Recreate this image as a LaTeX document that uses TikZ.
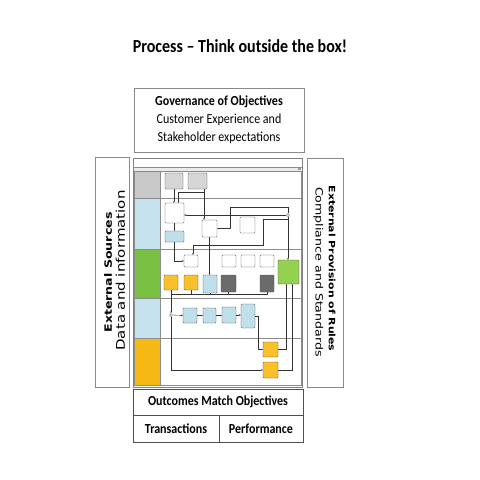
\documentclass[tikz,border=0pt]{standalone}
\usepackage{fontspec}
\usepackage{graphicx}
\setmainfont{Carlito}
\newfontfamily\djv{DejaVu Sans}
\usetikzlibrary{arrows.meta}
\newcommand{\hsq}[1]{\scalebox{0.87}[1]{#1}}
\newcommand{\vsq}[1]{\scalebox{1}[0.8]{#1}}
\definecolor{lanegray}{HTML}{C9C9C9}
\definecolor{laneblue}{HTML}{C6E2EC}
\definecolor{lanegreen}{HTML}{7AC143}
\definecolor{laneyellow}{HTML}{F6B913}
\definecolor{boxgray}{HTML}{D6D6D6}
\definecolor{boxblue}{HTML}{BFE0EB}
\definecolor{boxyellow}{HTML}{F8C02A}
\definecolor{boxdark}{HTML}{6B6B6B}
\definecolor{boxgreen}{HTML}{94D051}
\definecolor{outline}{HTML}{8A8A8A}
\definecolor{darkline}{HTML}{505050}
\begin{document}
\begin{tikzpicture}[x=1pt,y=-1pt,
  bigbox/.style={draw=outline,line width=0.9pt,inner sep=0pt,outer sep=0pt},
  botbox/.style={draw=darkline,line width=0.8pt,inner sep=0pt,outer sep=0pt},
  lbl/.style={inner sep=0pt,font=\fontsize{13.8}{16}\selectfont},
  sidel/.style={inner sep=0pt},
  fl/.style={draw=black!70,line width=0.35pt,rounded corners=0.8pt,inner sep=0pt,outer sep=0pt,anchor=north west},
  wb/.style={fl,fill=white},
  gb/.style={fl,fill=boxgray},
  bb/.style={fl,fill=boxblue},
  yb/.style={fl,fill=boxyellow},
  db/.style={fl,fill=boxdark},
  grb/.style={fl,fill=boxgreen},
  junc/.style={circle,draw=black!70,fill=white,line width=0.35pt,minimum size=3pt,inner sep=0pt},
  cn/.style={draw=black!80,line width=0.35pt},
  arr/.style={cn,-{Latex[length=1.8pt,width=1.6pt]}},
  lane/.style={draw=black!45,line width=0.35pt}
]
\useasboundingbox (0,0) rectangle (480,480);
\fill[white] (0,0) rectangle (480,480);

% title
\node[inner sep=0pt,font=\fontsize{18.4}{21}\selectfont\bfseries] (title) at (240,46) {\hsq{Process – Think outside the box!}};

% governance box
\node[bigbox,anchor=north west,minimum width=170pt,minimum height=64pt] (gov) at (134,88) {};
\node[lbl,font=\fontsize{13.8}{16}\selectfont\bfseries] (gov1) at (219,102) {\hsq{Governance of Objectives}};
\node[lbl] (gov2) at (219,120) {\hsq{Customer Experience and}};
\node[lbl] (gov3) at (219,138) {\hsq{Stakeholder expectations}};

% left box
\node[bigbox,anchor=north west,minimum width=34pt,minimum height=230pt] (ext) at (95,157) {};
\node[sidel,rotate=90,font=\djv\fontsize{12.6}{14}\selectfont\bfseries] (ext1) at (108,272.5) {\vsq{External Sources}};
\node[sidel,rotate=90,font=\djv\fontsize{15}{17}\selectfont] (ext2) at (120.5,270.5) {\vsq{Data and information}};

% right box
\node[bigbox,anchor=north west,minimum width=36pt,minimum height=229pt] (rules) at (307,158) {};
\node[sidel,rotate=-90,font=\djv\fontsize{10.9}{13}\selectfont\bfseries] (rules1) at (332,268.5) {\vsq{External Provision of Rules}};
\node[sidel,rotate=-90,font=\djv\fontsize{12.6}{14}\selectfont] (rules2) at (318.5,272) {\vsq{Compliance and Standards}};

% bottom boxes
\node[botbox,anchor=north west,minimum width=170pt,minimum height=26pt] (out) at (133,389) {};
\node[botbox,anchor=north west,minimum width=86pt,minimum height=27pt] (trans) at (133,415) {};
\node[botbox,anchor=north west,minimum width=84pt,minimum height=27pt] (perf) at (219,415) {};
\node[lbl,font=\fontsize{13.8}{16}\selectfont\bfseries] at (out.center) {\hsq{Outcomes Match Objectives}};
\node[lbl,font=\fontsize{13.8}{16}\selectfont\bfseries] at (trans.center) {\hsq{Transactions}};
\node[lbl,font=\fontsize{13.8}{16}\selectfont\bfseries] at (perf.center) {\hsq{Performance}};

% ---------------- inner process model ----------------
\draw[draw=black!50,line width=0.5pt,fill=white] (133,158) rectangle (302,387);
\draw[lane] (133,167) -- (302,167);
\fill[black!8] (134,168) rectangle (301,170.5);
\fill[black!40] (298,168.3) rectangle (300.5,170.2);
% lane label columns
\fill[lanegray]  (134,171) rectangle (160,198);
\fill[laneblue]  (134,198) rectangle (160,249);
\fill[lanegreen] (134,249) rectangle (160,298);
\fill[laneblue]  (134,298) rectangle (160,338);
\fill[laneyellow](134,338) rectangle (160,385);
\draw[lane] (134,171) rectangle (301,385);
\foreach \yy in {198,249,298,338} \draw[lane] (134,\yy) -- (301,\yy);
\draw[lane] (160,171) -- (160,385);

% boxes
\node[gb,minimum width=18pt,minimum height=16pt] (g1) at (165,173) {};
\node[gb,minimum width=19pt,minimum height=16pt] (g2) at (188,173) {};
\node[wb,minimum width=19pt,minimum height=20pt] (A) at (165,203) {};
\node[bb,minimum width=19pt,minimum height=11pt] (Ab) at (165,231) {};
\node[wb,minimum width=15pt,minimum height=17pt] (B) at (202,220) {};
\node[wb,minimum width=15pt,minimum height=16pt] (Q) at (240,217) {};
\node[wb,minimum width=14pt,minimum height=12pt] (C) at (184,255) {};
\node[wb,minimum width=14pt,minimum height=12pt] (w1) at (222,255) {};
\node[wb,minimum width=14pt,minimum height=12pt] (w2) at (241,255) {};
\node[wb,minimum width=14pt,minimum height=12pt] (w3) at (260,255) {};
\node[yb,minimum width=14pt,minimum height=15pt] (y1) at (164,275) {};
\node[yb,minimum width=14pt,minimum height=15pt] (y2) at (184,275) {};
\node[bb,minimum width=14pt,minimum height=18pt] (bl) at (203,275) {};
\node[db,minimum width=15pt,minimum height=17pt] (d1) at (221,275) {};
\node[db,minimum width=14pt,minimum height=17pt] (d2) at (260,275) {};
\node[grb,minimum width=21pt,minimum height=24pt] (G) at (278,260) {};
\node[bb,minimum width=14pt,minimum height=15pt] (b1) at (183,308) {};
\node[bb,minimum width=13pt,minimum height=15pt] (b2) at (203,308) {};
\node[bb,minimum width=14pt,minimum height=16pt] (b3) at (222,307) {};
\node[bb,minimum width=14pt,minimum height=24pt] (b4) at (241,304) {};
\node[yb,minimum width=15pt,minimum height=15pt] (o1) at (263,342) {};
\node[yb,minimum width=15pt,minimum height=16pt] (o2) at (263,362) {};
\node[junc] (c1) at (288,215) {};
\node[junc] (c2) at (171,315) {};

\coordinate (t1) at (230,207);
\coordinate (t2) at (263,219);
\coordinate (t3) at (263,245);
\coordinate (hL) at (171,294);

% connectors
\draw[arr] (g1.south) -- (g1.south |- A.north);
\draw[arr] ([xshift=-3pt]g2.south east) -- ([xshift=-3pt]g2.south east |- B.north);
\draw[arr] ([xshift=-3pt,yshift=-3pt]g2.south east) -| ([xshift=4pt]A.north);
\draw[arr] (A.south) -- (A.south |- Ab.north);
\draw[arr] (Ab.south) |- (C.west);
\draw[arr] (B.south) -- (B.south |- bl.north);
\draw[arr] (c1.west) -- (c1.west -| A.east);
\draw[arr] (c1.north) |- (t1) |- (B.east);
\draw[arr] (c1.south |- t2) -- (t2) -- (t3) -| ([xshift=2pt]C.north);
\draw[arr] (c1.south) -- (c1.south |- G.north);
\draw[arr] (o1.east) -| ([xshift=-2pt]G.south);
\draw[arr] (o2.east) -| ([xshift=4pt]G.south);
\draw[cn] (d2.south) |- (hL);
\draw[cn] (y1.south) -- (y1.south |- hL);
\draw[cn] (y2.south) -- (y2.south |- hL);
\draw[cn] (bl.south) -- (bl.south |- hL);
\draw[cn] (d1.south) -- (d1.south |- hL);
\draw[arr] (hL) -- (c2.north);
\draw[arr] (c2.east) -- (b1.west);
\draw[arr] (b1.east) -- (b1.east -| b2.west);
\draw[arr] (b2.east) -- (b2.east -| b3.west);
\draw[arr] (b3.east) -- (b3.east -| b4.west);
\draw[arr] (b4.east) -- ++(3,0) |- (o1.west);
\draw[arr] (c2.south) |- (o2.west);
\end{tikzpicture}
\end{document}
